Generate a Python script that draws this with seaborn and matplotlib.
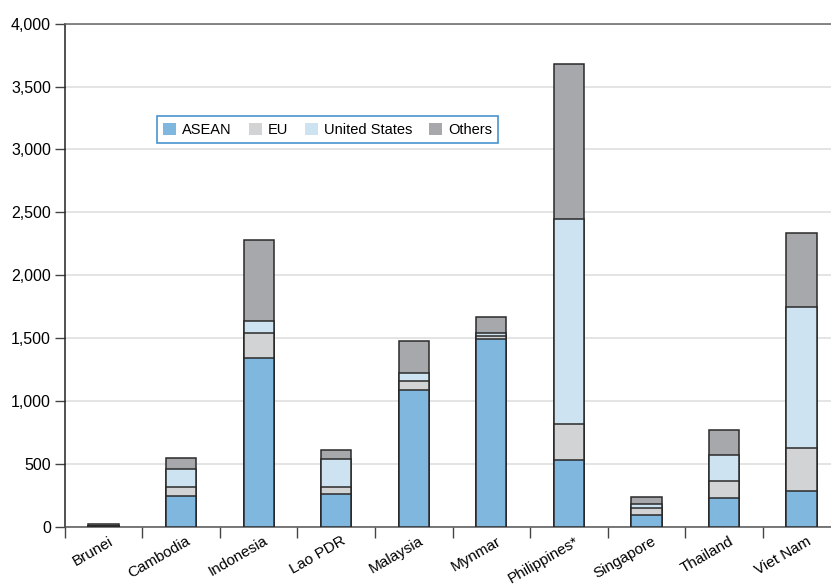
import pandas as pd
import seaborn as sns
import matplotlib.pyplot as plt
import matplotlib.transforms as mtransforms
from matplotlib.patches import Patch
from matplotlib.ticker import FuncFormatter, FixedLocator

sns.set_style("white")
plt.rcParams["font.family"] = ["Liberation Sans", "DejaVu Sans"]
plt.rcParams["text.color"] = "black"
plt.rcParams["xtick.labelcolor"] = "black"
plt.rcParams["ytick.labelcolor"] = "black"

# data
countries = ["Brunei", "Cambodia", "Indonesia", "Lao PDR", "Malaysia",
             "Mynmar", "Philippines*", "Singapore", "Thailand", "Viet Nam"]
asean = [5, 245, 1340, 260, 1085, 1490, 530, 93, 230, 283]
eu = [3, 70, 205, 55, 75, 28, 290, 55, 137, 344]
us = [2, 145, 90, 227, 60, 27, 1630, 32, 202, 1121]
others = [15, 85, 645, 67, 255, 120, 1230, 56, 201, 590]

series = ["ASEAN", "EU", "United States", "Others"]
colors = {"ASEAN": "#80b7de", "EU": "#d2d3d5",
          "United States": "#cde3f1", "Others": "#a7a8ac"}

df = pd.DataFrame({"country": countries, "ASEAN": asean, "EU": eu,
                   "United States": us, "Others": others})
cum = df[series].cumsum(axis=1)
cum["country"] = df["country"]

fig = plt.figure(figsize=(8.31, 5.86), dpi=100)
ax = fig.add_axes([0.078, 0.1007, 0.922, 0.859])

# stacked bars: draw cumulative totals from the top segment down
for s in reversed(series):
    sns.barplot(data=cum, x="country", y=s, color=colors[s], width=0.39,
                edgecolor="#2a2a2a", linewidth=1.1, saturation=1, ax=ax, zorder=3)

ax.set_xlim(-0.5, 9.38)
ax.set_ylim(0, 4000)
ax.set_yticks(range(0, 4001, 500))
ax.yaxis.set_major_formatter(FuncFormatter(lambda v, p: f"{int(v):,}"))
ax.grid(axis="y", color="#dcdcdc", linewidth=1.1, zorder=0)
ax.set_axisbelow(True)
ax.set_xlabel("")
ax.set_ylabel("")

for side in ["left", "bottom", "top"]:
    ax.spines[side].set_visible(True)
    ax.spines[side].set_linewidth(1.1)
ax.spines["left"].set_color("#222222")
ax.spines["bottom"].set_color("#555555")
ax.spines["top"].set_color("#666666")
ax.spines["right"].set_visible(False)

ax.tick_params(axis="y", which="major", direction="out", length=7, width=1,
               color="#444444", labelsize=11.5, left=True, pad=3)
ax.tick_params(axis="x", which="major", length=0, labelsize=11, pad=5)
ax.xaxis.set_minor_locator(FixedLocator([i - 0.5 for i in range(10)]))
ax.tick_params(axis="x", which="minor", direction="out", length=8, width=1,
               color="#444444", bottom=True)
shift = mtransforms.ScaledTranslation(12 / 100, 0, fig.dpi_scale_trans)
for lbl in ax.get_xticklabels():
    lbl.set_rotation(30)
    lbl.set_ha("right")
    lbl.set_transform(lbl.get_transform() + shift)

handles = [Patch(facecolor=colors[s], edgecolor="none", label=s) for s in series]
leg = ax.legend(handles=handles, ncol=4, loc="center", bbox_to_anchor=(0.343, 0.789),
                fontsize=10.5, frameon=True, fancybox=False, handlelength=0.9,
                handleheight=0.9, handletextpad=0.4, columnspacing=1.15,
                borderpad=0.45)
leg.get_frame().set_edgecolor("#1a78c2")
leg.get_frame().set_linewidth(1.2)

plt.savefig("out.png", dpi=100)
